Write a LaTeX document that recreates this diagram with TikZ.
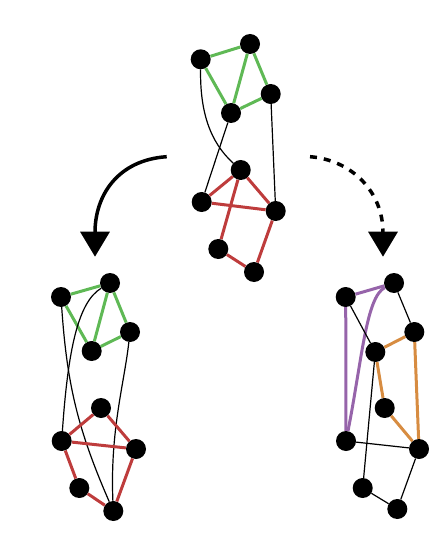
\documentclass[tikz,border=0pt]{standalone}
\usetikzlibrary{arrows.meta}
\definecolor{cgreen}{RGB}{95,185,85}
\definecolor{cred}{RGB}{190,60,60}
\definecolor{cpurple}{RGB}{150,100,170}
\definecolor{corange}{RGB}{215,140,65}
\tikzset{
  vtx/.style={circle,fill=black,inner sep=0pt,minimum size=20pt},
  ge/.style={cgreen,line width=3pt},
  re/.style={cred,line width=3pt},
  pe/.style={cpurple,line width=3pt},
  oe/.style={corange,line width=3pt},
  be/.style={black,line width=1.2pt},
  bigarrow/.style={line width=3.5pt,-{Triangle[width=29pt,length=25pt]}},
}
\begin{document}
\begin{tikzpicture}[x=1pt,y=-1pt]
\useasboundingbox (0,0) rectangle (435,537);
% top graph
\node[vtx] (t1) at (200.7,59.3) {};
\node[vtx] (t2) at (250,44) {};
\node[vtx] (t3) at (270.7,94) {};
\node[vtx] (t4) at (231,113) {};
\node[vtx] (t5) at (240.7,170) {};
\node[vtx] (t6) at (201.7,202) {};
\node[vtx] (t7) at (275.7,211) {};
\node[vtx] (t8) at (218.3,249) {};
\node[vtx] (t9) at (254,272) {};
\draw[ge] (t1) -- (t2);
\draw[ge] (t1) -- (t4);
\draw[ge] (t2) -- (t4);
\draw[ge] (t2) -- (t3);
\draw[ge] (t3) -- (t4);
\draw[be] (t1) .. controls (200,112) and (210,142) .. (t5);
\draw[be] (t4) -- (t6);
\draw[be] (t3) -- (t7);
\draw[re] (t5) -- (t6);
\draw[re] (t5) -- (t7);
\draw[re] (t6) -- (t7);
\draw[re] (t5) -- (t8);
\draw[re] (t8) -- (t9);
\draw[re] (t7) -- (t9);
% left graph
\node[vtx] (l1) at (61,297) {};
\node[vtx] (l2) at (110,283) {};
\node[vtx] (l3) at (130,332) {};
\node[vtx] (l4) at (91.7,351) {};
\node[vtx] (l5) at (101,408) {};
\node[vtx] (l6) at (61.7,441) {};
\node[vtx] (l7) at (136,449) {};
\node[vtx] (l8) at (79.3,488) {};
\node[vtx] (l9) at (113.3,511) {};
\draw[ge] (l1) -- (l2);
\draw[ge] (l1) -- (l4);
\draw[ge] (l2) -- (l4);
\draw[ge] (l2) -- (l3);
\draw[ge] (l3) -- (l4);
\draw[be] (l1) .. controls (67,385) and (78,430) .. (l9);
\draw[be] (l2) .. controls (78,302) and (68,350) .. (l6);
\draw[be] (l3) .. controls (124,385) and (110,430) .. (l9);
\draw[re] (l5) -- (l6);
\draw[re] (l5) -- (l7);
\draw[re] (l6) -- (l7);
\draw[re] (l6) -- (l8);
\draw[re] (l8) -- (l9);
\draw[re] (l7) -- (l9);
% right graph
\node[vtx] (r1) at (345.7,297) {};
\node[vtx] (r2) at (394,283) {};
\node[vtx] (r3) at (414.3,332) {};
\node[vtx] (r4) at (375.3,352) {};
\node[vtx] (r5) at (384.7,408) {};
\node[vtx] (r6) at (346,441) {};
\node[vtx] (r7) at (419,449) {};
\node[vtx] (r8) at (362.7,488) {};
\node[vtx] (r9) at (397.3,509) {};
\draw[pe] (r1) -- (r2);
\draw[pe] (r1) -- (r6);
\draw[pe] (r2) .. controls (366,297) and (362,360) .. (r6);
\draw[be] (r1) -- (r4);
\draw[be] (r2) -- (r3);
\draw[be] (r4) -- (r8);
\draw[be] (r6) -- (r7);
\draw[be] (r8) -- (r9);
\draw[be] (r7) -- (r9);
\draw[oe] (r3) -- (r4);
\draw[oe] (r4) -- (r5);
\draw[oe] (r5) -- (r7);
\draw[oe] (r3) -- (r7);
% arrows
\coordinate (la) at (166.7,156.7);
\coordinate (lb) at (95,256.7);
\coordinate (ra) at (310,156.7);
\coordinate (rb) at (383,256.7);
\draw[bigarrow] (la) .. controls (118,160) and (95,195) .. (lb);
\draw[bigarrow,dash pattern=on 7pt off 7pt] (ra) .. controls (352,160) and (383,192) .. (rb);
\end{tikzpicture}
\end{document}
